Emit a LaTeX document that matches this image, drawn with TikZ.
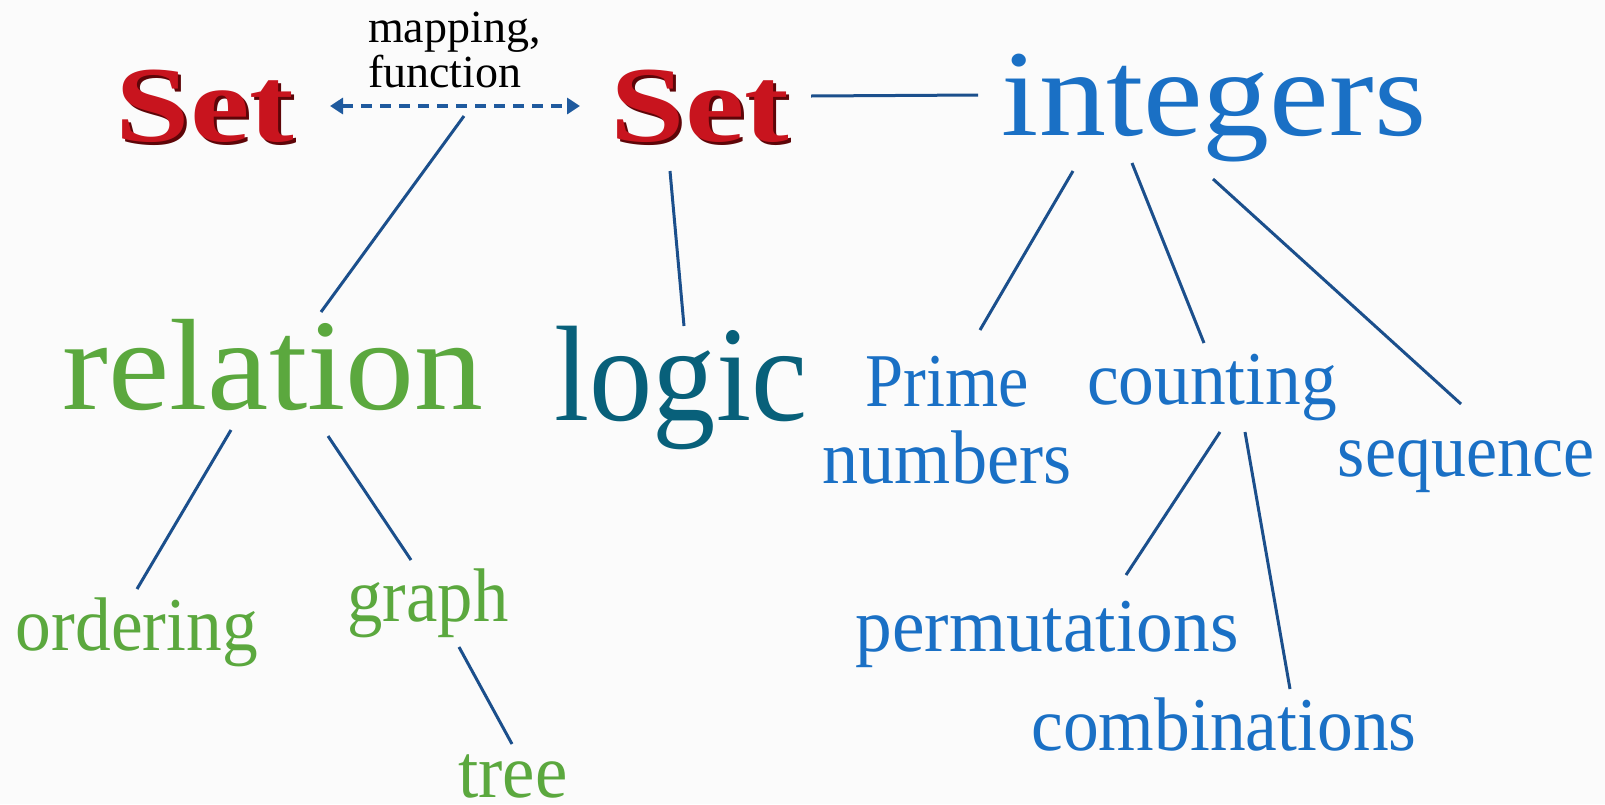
\documentclass[tikz,border=0pt]{standalone}
\usepackage{fontspec}
\setmainfont{Liberation Serif}
\usetikzlibrary{arrows.meta}

\definecolor{bg}{HTML}{FBFBFB}
\definecolor{linkblue}{HTML}{1B4F8C}
\definecolor{arrowblue}{HTML}{1F5A9E}
\definecolor{topicblue}{HTML}{1A70C5}
\definecolor{topicgreen}{HTML}{5BA83E}
\definecolor{logicteal}{HTML}{08607A}
\definecolor{setred}{HTML}{C8141E}
\definecolor{setshadow}{HTML}{5E0508}

% font size (pt) and horizontal stretch for a label
\newcommand{\lbl}[3]{\fontsize{#1}{#1}\selectfont\scalebox{#2}[1]{#3}}
\newcommand{\setword}{\fontsize{54}{54}\selectfont\bfseries\scalebox{1.24}[1]{Set}}

\begin{document}
\begin{tikzpicture}[x=0.5pt, y=-0.5pt,
  every node/.style={inner sep=0pt, outer sep=0pt},
  link/.style={draw=linkblue, line width=1.5pt},
  topic/.style={anchor=base, text=topicblue},
  greentopic/.style={anchor=base, text=topicgreen}]

% canvas
\fill[bg] (0,0) rectangle (1605,804);
\useasboundingbox (0,0) rectangle (1605,804);

% the two sets, with a dark drop shadow
\node[anchor=base, text=setshadow] (set1shadow) at (208,144) {\setword};
\node[anchor=base, text=setred] (set1) at (205,141) {\setword};
\node[anchor=base, text=setshadow] (set2shadow) at (703,144) {\setword};
\node[anchor=base, text=setred] (set2) at (700,141) {\setword};

% label of the mapping (base anchor = baseline of its last line)
\node[anchor=base west, align=left, font=\fontsize{23}{20.5}\selectfont] (maplabel) at (368,87) {mapping,\\function};

% main topics
\node[topic] (integers) at (1214,135) {\lbl{61.5}{1.09}{integers}};
\node[greentopic] (relation) at (273,409) {\lbl{65}{1.06}{relation}};
\node[anchor=base, text=logicteal] (logic) at (681,420) {\lbl{68}{0.93}{logic}};

% sub topics
\node[topic, align=center, font=\fontsize{38}{38.5}\selectfont] (prime) at (947,483) {\scalebox{0.9}[1]{Prime}\\\scalebox{0.95}[1]{numbers}};
\node[topic] (counting) at (1212,404) {\lbl{38}{0.94}{counting}};
\node[topic] (sequence) at (1466,476) {\lbl{38}{0.92}{sequence}};
\node[topic] (perm) at (1047,651) {\lbl{38}{0.965}{permutations}};
\node[topic] (comb) at (1224,750) {\lbl{38}{0.94}{combinations}};
\node[greentopic] (ordering) at (137,650) {\lbl{38}{0.94}{ordering}};
\node[greentopic] (graph) at (428,621) {\lbl{38}{0.93}{graph}};
\node[greentopic] (tree) at (513,797) {\lbl{38}{0.96}{tree}};

% mapping between the sets
\draw[draw=arrowblue, line width=1.8pt, dash pattern=on 5.5pt off 4pt,
  {Triangle[length=6.5pt,width=8pt]}-{Triangle[length=6.5pt,width=8pt]}]
  ([shift={(125,-35)}]set1.base) -- ([shift={(-120,-35)}]set2.base);
\coordinate (fnroot) at (464,116);

% connectors
\draw[link] (fnroot) -- ([shift={(48,-97)}]relation.base);
\draw[link] ([shift={(111,-45)}]set2.base) -- ([shift={(-236,-40)}]integers.base);
\draw[link] ([shift={(-30,30)}]set2.base) -- ([shift={(3,-94)}]logic.base);
\draw[link] ([shift={(-42,21)}]relation.base) -- ([shift={(0,-61)}]ordering.base);
\draw[link] ([shift={(55,27)}]relation.base) -- ([shift={(-17,-61)}]graph.base);
\draw[link] ([shift={(31,26)}]graph.base) -- ([shift={(-1,-53)}]tree.base);
\draw[link] ([shift={(-141,36)}]integers.base) -- ([shift={(33,-153)}]prime.base);
\draw[link] ([shift={(-82,28)}]integers.base) -- ([shift={(-8,-61)}]counting.base);
\draw[link] ([shift={(-1,44)}]integers.base) -- ([shift={(-5,-72)}]sequence.base);
\draw[link] ([shift={(8,28)}]counting.base) -- ([shift={(79,-76)}]perm.base);
\draw[link] ([shift={(33,28)}]counting.base) -- ([shift={(66,-61)}]comb.base);
\end{tikzpicture}
\end{document}
